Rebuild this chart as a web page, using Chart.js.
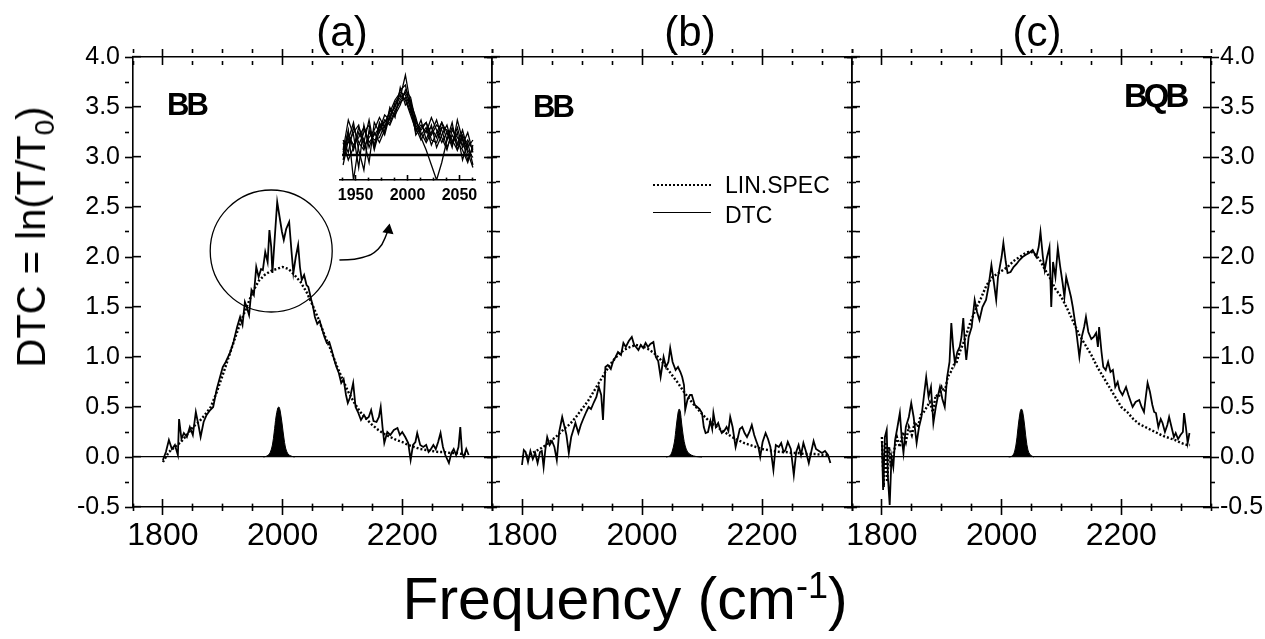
<!DOCTYPE html>
<html>
<head>
<meta charset="utf-8">
<script src="https://cdn.jsdelivr.net/npm/chart.js@4.4.1/dist/chart.umd.min.js"></script>
<style>
  body { margin: 0; background: #fff; width: 1265px; height: 639px; position: relative; overflow: hidden;
         font-family: "Liberation Sans", Arial, sans-serif; color: #000; }
  canvas { position: absolute; top: 0; }
  .t { position: absolute; line-height: 1; white-space: nowrap; }
  .lbl { font-size: 31px; font-weight: bold; letter-spacing: -3px; }
  .pan { font-size: 42px; transform: translateX(-50%); }
  .leg { position: absolute; width: 58px; height: 0; }
</style>
</head>
<body>
<canvas id="pa" width="497" height="639" style="left:0"></canvas>
<canvas id="pb" width="370" height="639" style="left:487px"></canvas>
<canvas id="pc" width="418" height="639" style="left:847px"></canvas>
<canvas id="inset" width="160" height="150" style="left:330px;top:60px"></canvas>

<div class="t pan" style="left:342px;top:11px">(a)</div>
<div class="t pan" style="left:690px;top:11px">(b)</div>
<div class="t pan" style="left:1037px;top:11px">(c)</div>
<div class="t lbl" style="left:167px;top:89px">BB</div>
<div class="t lbl" style="left:533px;top:91px">BB</div>
<div class="t lbl" style="left:1124px;top:79px;font-size:33px;letter-spacing:-4px">BQB</div>

<div class="leg" style="left:653px;top:184px;border-top:2px dotted #000"></div>
<div class="t" style="left:725px;top:174px;font-size:23px">LIN.SPEC</div>
<div class="leg" style="left:653px;top:212px;border-top:1.5px solid #000"></div>
<div class="t" style="left:725px;top:204px;font-size:23px">DTC</div>

<div class="t" style="left:35px;top:237px;font-size:40px;transform:translate(-50%,-50%) rotate(-90deg)">DTC = ln(T/T<sub style="font-size:28px">0</sub>)</div>
<div class="t" style="left:625px;top:568px;font-size:59px;transform:translateX(-50%)">Frequency (cm<sup style="font-size:36px">-1</sup>)</div>

<script>
// Achsen
const xTickValues = [1800, 2000, 2200];
const yTickValues = [-0.5, 0, 0.5, 1, 1.5, 2, 2.5, 3, 3.5, 4];
const insetTickValues = [1950, 2000, 2050];

// (a) BB
const dtcA = [[1800,-0.03],[1805,0.05],[1810,0.17],[1815,0.08],[1820,0.12],[1825,0.02],[1827,0.38],[1831,0.18],[1835,0.24],[1840,0.2],[1845,0.3],[1850,0.22],[1855,0.45],[1860,0.3],[1863,0.2],[1868,0.35],[1873,0.42],[1879,0.47],[1884,0.5],[1890,0.68],[1895,0.79],[1900,0.9],[1905,0.95],[1912,1.04],[1918,1.15],[1924,1.3],[1929,1.4],[1933,1.32],[1937,1.55],[1940,1.5],[1944,1.42],[1948,1.67],[1952,1.62],[1956,1.9],[1960,1.8],[1964,1.88],[1967,1.87],[1971,2.05],[1975,1.95],[1978,2.27],[1981,2.1],[1983,1.84],[1987,2.2],[1991,2.55],[1995,2.4],[1999,2.25],[2002,2.17],[2006,2.28],[2011,2.35],[2015,2.05],[2018,1.84],[2022,2.0],[2026,2.12],[2029,1.9],[2032,1.77],[2036,1.82],[2040,1.72],[2043,1.7],[2048,1.57],[2051,1.5],[2054,1.4],[2058,1.33],[2062,1.36],[2065,1.3],[2070,1.2],[2074,1.14],[2078,1.15],[2082,1.07],[2086,0.98],[2090,0.9],[2094,0.84],[2098,0.74],[2102,0.78],[2106,0.62],[2109,0.54],[2113,0.6],[2118,0.74],[2122,0.5],[2126,0.45],[2131,0.37],[2136,0.42],[2140,0.38],[2144,0.4],[2148,0.47],[2152,0.36],[2157,0.35],[2161,0.4],[2164,0.5],[2167,0.3],[2170,0.14],[2175,0.25],[2180,0.22],[2186,0.27],[2192,0.29],[2196,0.22],[2200,0.25],[2205,0.2],[2210,0.14],[2214,-0.03],[2218,0.12],[2222,0.15],[2225,0.24],[2230,0.12],[2235,0.1],[2240,0.12],[2244,0.05],[2247,0.07],[2252,0.12],[2256,0.08],[2260,0.15],[2264,0.24],[2268,0.1],[2272,0.02],[2278,-0.06],[2282,0.04],[2286,0.08],[2290,0.02],[2294,0.1],[2297,0.3],[2300,0.04],[2303,0.0],[2307,0.08],[2311,0.02]];
const linA = [[1800,-0.05],[1810,0.05],[1820,0.1],[1830,0.15],[1840,0.22],[1850,0.3],[1860,0.35],[1870,0.42],[1880,0.5],[1890,0.65],[1900,0.82],[1910,1.0],[1920,1.18],[1930,1.35],[1940,1.5],[1950,1.65],[1960,1.76],[1970,1.82],[1980,1.86],[1990,1.88],[2000,1.9],[2010,1.88],[2020,1.82],[2030,1.75],[2040,1.65],[2050,1.52],[2060,1.38],[2070,1.22],[2080,1.08],[2090,0.92],[2100,0.78],[2110,0.65],[2120,0.54],[2130,0.45],[2140,0.38],[2150,0.32],[2160,0.27],[2170,0.23],[2180,0.2],[2190,0.17],[2200,0.15],[2210,0.12],[2220,0.1],[2230,0.08],[2240,0.07],[2250,0.06],[2260,0.05],[2270,0.05],[2280,0.04],[2290,0.04],[2300,0.03],[2310,0.03]];
const peakA = [[1968,0],[1974,0.01],[1979,0.04],[1983,0.12],[1986,0.25],[1989,0.4],[1992,0.49],[1994,0.5],[1996,0.46],[1999,0.34],[2002,0.2],[2005,0.09],[2009,0.03],[2014,0.01],[2020,0]];
const circleA = [[1981, 2.06]];
const arrowA = [[2095,1.97],[2130,1.99],[2160,2.08],[2177,2.27]];

// (b) BB
const dtcB = [[1800,-0.08],[1803,0.07],[1806,0.05],[1810,-0.05],[1814,0.06],[1818,-0.02],[1822,0.04],[1826,-0.06],[1830,0.05],[1833,0.06],[1836,-0.1],[1839,0.08],[1842,0.2],[1846,0.12],[1850,0.16],[1854,0.1],[1858,-0.03],[1862,0.25],[1867,0.4],[1871,0.3],[1874,0.22],[1878,0.04],[1882,0.2],[1886,0.28],[1889,0.34],[1894,0.24],[1898,0.32],[1902,0.38],[1907,0.45],[1911,0.5],[1915,0.48],[1920,0.55],[1924,0.6],[1928,0.7],[1932,0.62],[1935,0.37],[1939,0.9],[1943,0.92],[1948,0.88],[1952,0.96],[1956,1.0],[1960,1.05],[1965,1.02],[1969,1.14],[1973,1.1],[1978,1.16],[1983,1.2],[1987,1.12],[1990,1.1],[1994,1.07],[1998,1.12],[2002,1.09],[2006,1.14],[2010,1.1],[2014,1.13],[2019,1.15],[2023,1.0],[2027,0.96],[2031,0.8],[2036,1.0],[2040,0.9],[2044,0.95],[2047,1.09],[2051,0.95],[2056,0.87],[2060,0.9],[2064,0.85],[2067,0.8],[2070,0.72],[2072,0.47],[2076,0.58],[2080,0.62],[2083,0.62],[2088,0.52],[2092,0.5],[2096,0.48],[2100,0.44],[2103,0.3],[2106,0.24],[2110,0.25],[2114,0.36],[2117,0.28],[2119,0.44],[2123,0.3],[2127,0.34],[2130,0.28],[2133,0.24],[2137,0.26],[2141,0.3],[2144,0.26],[2147,0.4],[2151,0.3],[2156,0.1],[2160,0.2],[2163,0.28],[2167,0.3],[2171,0.24],[2175,0.2],[2179,0.25],[2183,0.32],[2187,0.22],[2191,0.15],[2194,0.1],[2197,0.0],[2201,0.15],[2206,0.24],[2210,0.18],[2214,0.1],[2219,-0.13],[2223,0.12],[2228,0.1],[2232,0.14],[2236,0.05],[2239,0.07],[2243,0.15],[2248,0.08],[2253,-0.18],[2257,0.05],[2261,0.12],[2265,0.02],[2269,0.14],[2273,0.06],[2278,-0.06],[2282,0.05],[2286,0.16],[2290,0.08],[2295,0.06],[2300,0.04],[2305,0.06],[2310,0.02],[2314,-0.06]];
const linB = [[1800,0.0],[1810,0.02],[1820,0.05],[1830,0.08],[1840,0.12],[1850,0.17],[1860,0.22],[1870,0.28],[1880,0.33],[1890,0.4],[1900,0.48],[1910,0.56],[1920,0.66],[1930,0.76],[1940,0.86],[1950,0.95],[1960,1.02],[1970,1.07],[1980,1.1],[1990,1.12],[2000,1.11],[2010,1.08],[2020,1.04],[2030,0.98],[2040,0.9],[2050,0.82],[2060,0.74],[2070,0.65],[2080,0.57],[2090,0.5],[2100,0.43],[2110,0.37],[2120,0.32],[2130,0.28],[2140,0.24],[2150,0.2],[2160,0.17],[2170,0.14],[2180,0.12],[2190,0.1],[2200,0.08],[2210,0.07],[2220,0.06],[2230,0.05],[2240,0.05],[2250,0.04],[2260,0.04],[2270,0.03],[2280,0.03],[2290,0.03],[2300,0.02],[2310,0.02]];
const peakB = [[2040,0],[2046,0.01],[2050,0.05],[2054,0.15],[2057,0.3],[2060,0.44],[2062,0.48],[2064,0.45],[2066,0.34],[2069,0.2],[2072,0.11],[2076,0.05],[2082,0.02],[2090,0.005],[2100,0]];

// (c) BQB
const dtcC = [[1800,0.15],[1802,-0.33],[1805,0.2],[1808,0.27],[1810,-0.2],[1813,-0.48],[1816,0.0],[1819,-0.1],[1822,0.17],[1826,0.3],[1830,0.44],[1833,0.2],[1836,0.04],[1840,0.3],[1845,0.4],[1849,0.54],[1853,0.4],[1858,0.14],[1862,0.3],[1866,0.4],[1870,0.6],[1874,0.8],[1878,0.6],[1882,0.7],[1886,0.34],[1890,0.5],[1894,0.62],[1897,0.7],[1901,0.58],[1905,0.5],[1909,0.8],[1913,0.95],[1916,1.34],[1919,1.1],[1922,0.94],[1926,1.05],[1930,1.1],[1933,1.2],[1936,1.39],[1939,1.1],[1941,0.97],[1945,1.2],[1950,1.3],[1955,1.57],[1959,1.45],[1963,1.37],[1968,1.5],[1974,1.57],[1978,1.7],[1983,1.92],[1987,1.75],[1991,1.57],[1994,1.8],[1997,1.9],[2000,2.0],[2003,2.14],[2007,1.95],[2010,1.84],[2015,1.85],[2020,1.9],[2025,1.93],[2030,1.97],[2035,2.0],[2040,2.02],[2046,2.04],[2052,2.07],[2058,2.0],[2062,2.1],[2065,2.25],[2069,2.0],[2072,1.87],[2076,2.0],[2080,2.1],[2083,1.5],[2086,1.95],[2090,1.8],[2094,2.09],[2098,1.9],[2102,1.74],[2105,1.6],[2108,1.8],[2112,1.7],[2116,1.6],[2119,1.5],[2124,1.3],[2127,1.15],[2130,1.0],[2134,1.2],[2138,1.3],[2141,1.4],[2145,1.25],[2150,1.18],[2154,1.2],[2158,1.24],[2161,1.1],[2163,1.3],[2167,1.05],[2170,0.9],[2174,0.87],[2178,0.95],[2182,0.85],[2186,0.87],[2190,0.7],[2194,0.75],[2197,0.67],[2202,0.62],[2208,0.7],[2212,0.62],[2216,0.55],[2219,0.5],[2224,0.55],[2230,0.57],[2234,0.5],[2238,0.45],[2241,0.6],[2244,0.74],[2248,0.65],[2252,0.52],[2255,0.45],[2258,0.44],[2262,0.3],[2266,0.38],[2269,0.34],[2273,0.25],[2277,0.32],[2280,0.4],[2284,0.3],[2288,0.2],[2291,0.24],[2295,0.18],[2299,0.22],[2303,0.25],[2305,0.44],[2308,0.3],[2311,0.14],[2314,0.24]];
const linC = [[1800,0.2],[1803,-0.3],[1806,0.15],[1809,-0.25],[1812,0.1],[1815,-0.1],[1820,0.05],[1825,0.2],[1830,0.1],[1835,0.25],[1840,0.15],[1845,0.3],[1850,0.22],[1855,0.35],[1860,0.3],[1865,0.42],[1870,0.45],[1875,0.5],[1880,0.55],[1885,0.45],[1890,0.62],[1895,0.6],[1900,0.7],[1905,0.65],[1910,0.8],[1915,0.85],[1920,0.92],[1925,0.95],[1930,1.05],[1935,1.12],[1940,1.2],[1945,1.3],[1950,1.38],[1955,1.45],[1960,1.52],[1965,1.58],[1970,1.65],[1975,1.72],[1980,1.76],[1985,1.8],[1990,1.82],[1995,1.84],[2000,1.86],[2005,1.88],[2010,1.9],[2015,1.93],[2020,1.96],[2025,1.98],[2030,2.0],[2035,2.02],[2040,2.04],[2045,2.05],[2050,2.05],[2055,2.03],[2060,2.0],[2065,1.96],[2070,1.9],[2075,1.85],[2080,1.8],[2085,1.74],[2090,1.68],[2100,1.6],[2110,1.48],[2120,1.35],[2130,1.22],[2140,1.12],[2150,1.02],[2160,0.9],[2170,0.8],[2180,0.7],[2190,0.6],[2200,0.5],[2210,0.45],[2220,0.38],[2230,0.33],[2240,0.3],[2250,0.27],[2260,0.24],[2270,0.21],[2280,0.19],[2290,0.17],[2300,0.14],[2310,0.12],[2315,0.12]];
const peakC = [[2012,0],[2018,0.01],[2022,0.06],[2025,0.16],[2028,0.32],[2031,0.45],[2033,0.48],[2035,0.46],[2038,0.34],[2041,0.18],[2044,0.07],[2048,0.02],[2054,0]];

// Inset (a): mehrere Einzelspektren um 2000
const insetFreq = [1938,1943,1948,1953,1958,1963,1968,1973,1978,1983,1988,1993,1998,2003,2008,2013,2018,2023,2028,2033,2038,2043,2048,2053,2058,2063];
const insetRuns = [
  [0.2,1.4,0.8,-0.5,1.2,0.3,0.9,0.5,1.0,1.5,2.0,2.3,3.2,2.0,1.2,0.8,1.1,0.4,0.9,1.3,0.6,1.1,0.5,0.2,-0.3,0.4],
  [-0.4,0.6,1.3,0.2,-0.6,1.0,0.4,1.2,0.8,1.6,1.9,2.6,2.8,1.8,0.9,1.4,0.6,1.2,0.3,0.8,1.2,0.4,0.9,-0.2,0.5,-0.4],
  [0.5,-0.2,0.3,1.1,0.6,-0.3,1.3,0.9,1.4,1.2,1.7,2.2,2.5,2.1,1.5,0.7,0.2,-0.4,-1.0,-0.3,0.6,1.3,0.2,0.7,0.1,-0.5],
  [0.1,1.0,-1.0,0.4,0.9,1.2,0.2,1.0,1.6,1.4,2.1,2.4,2.2,1.6,1.0,1.2,0.9,1.5,1.0,0.5,0.9,0.3,1.4,0.6,-0.2,0.3],
  [0.3,0.5,0.9,1.2,0.3,0.7,1.0,1.5,1.1,1.8,1.6,2.0,2.6,2.3,1.3,1.0,1.3,0.8,1.2,1.0,0.3,0.8,0.4,1.0,0.2,-0.1],
  [-0.2,0.8,0.4,0.7,1.1,0.5,0.8,1.1,1.3,1.7,2.2,2.5,2.4,1.9,1.1,0.6,1.0,1.1,0.7,1.3,0.9,0.5,1.1,0.3,0.6,0.2],
  [0.6,0.1,1.1,0.5,0.2,0.9,0.6,0.7,1.2,1.3,1.8,2.1,2.3,1.7,1.4,0.9,0.5,0.9,1.4,0.7,0.2,1.0,0.7,0.4,0.9,0.1],
  [0.0,0.9,0.2,0.9,0.5,1.4,0.3,1.3,0.9,1.9,1.5,2.7,2.0,2.2,0.8,1.1,1.3,0.6,0.5,1.1,1.0,0.6,0.2,0.8,0.3,0.6]
];
const insetBase = [[1937,0],[2062,0]];

const FONT = '"Liberation Sans", Arial, sans-serif';
const pts = arr => arr.map(([x, y]) => ({ x, y }));

// Tick-Positionen inkl. Nebenticks (Achsenkonfiguration, keine Daten)
function tickGrid(lo, hi, step) {
  const out = [];
  for (let i = 0; lo + i * step <= hi + 1e-9; i++) out.push(+(lo + i * step).toFixed(4));
  return out;
}
const xAll = tickGrid(1750, 2350, 50);
const yAll = tickGrid(-0.5, 4.0, 0.25);
const insetAll = tickGrid(1937.5, 2062.5, 12.5);
const isMajor = (list, v) => list.some(m => Math.abs(m - v) < 1e-6);

// Achse mit Ticks (negative tickLength = nach innen); Nebenticks per Strichmuster kürzer
function frameAxis(all, majors, size, extra, sign = -1) {
  return Object.assign({
    type: 'linear',
    weight: 1,
    afterBuildTicks: s => { s.ticks = all.map(v => ({ value: v })); },
    border: { display: true, color: '#000', width: 1.6 },
    grid: {
      display: true,
      drawOnChartArea: false,
      drawTicks: true,
      tickLength: sign * size.major,
      tickWidth: 1.6,
      tickColor: '#000',
      tickBorderDash: c => (c.tick && isMajor(majors, c.tick.value) ? [] : [size.minor, 40])
    }
  }, extra);
}

// Zwillingsachse ohne Beschriftung mit umgekehrter Tick-Richtung -> Ticks kreuzen den Rahmen
function twinAxis(all, majors, size, position, min, max, horiz) {
  return frameAxis(all, majors, size, {
    position, min, max, weight: 0,
    border: { display: false },
    ticks: { display: false },
    afterFit: s => {
      if (horiz) { s.height = 0; s.paddingLeft = 0; s.paddingRight = 0; }
      else { s.width = 0; s.paddingTop = 0; s.paddingBottom = 0; }
    }
  }, 1);
}

function lineSet(data, dotted) {
  return {
    data: pts(data),
    borderColor: '#000',
    borderWidth: dotted ? 2.4 : 1.8,
    borderDash: dotted ? [2, 2] : [],
    pointRadius: 0,
    tension: 0,
    fill: false
  };
}

function peakSet(data) {
  return {
    data: pts(data),
    borderColor: '#000',
    borderWidth: 1,
    backgroundColor: '#000',
    pointRadius: 0,
    tension: 0.3,
    fill: 'origin'
  };
}

const SIZE = { major: 8, minor: 4 };

function makePanel(id, datasets, yMode, padding) {
  const leftW = yMode === 'left' ? 133 : 0;
  const rightW = yMode === 'right' ? 54 : 0;
  const x = frameAxis(xAll, xTickValues, SIZE, {
    position: 'bottom', min: 1750, max: 2350,
    afterFit: s => { s.height = 132; s.paddingLeft = 0; s.paddingRight = 0; },
    ticks: {
      color: '#000', font: { family: FONT, size: 32 }, padding: 18, maxRotation: 0, autoSkip: false,
      callback: v => (isMajor(xTickValues, v) ? String(v) : '')
    }
  });
  const y = frameAxis(yAll, yTickValues, SIZE, {
    position: 'left', min: -0.5, max: 4.0,
    afterFit: s => { s.width = leftW; s.paddingTop = 0; s.paddingBottom = 0; },
    ticks: {
      display: yMode === 'left',
      color: '#000', font: { family: FONT, size: 25 }, padding: 21,
      callback: v => (isMajor(yTickValues, v) ? v.toFixed(1) : '')
    }
  });
  // Nulllinie über die ganze Breite
  y.grid.drawOnChartArea = true;
  y.grid.lineWidth = 1.3;
  y.grid.color = c => (c.tick && c.tick.value === 0 ? '#000' : 'rgba(0,0,0,0)');
  const xTop = frameAxis(xAll, xTickValues, SIZE, {
    position: 'top', min: 1750, max: 2350,
    afterFit: s => { s.height = 0; s.paddingLeft = 0; s.paddingRight = 0; },
    ticks: { display: false }
  });
  const yRight = frameAxis(yAll, yTickValues, SIZE, {
    position: 'right', min: -0.5, max: 4.0,
    afterFit: s => { s.width = rightW; s.paddingTop = 0; s.paddingBottom = 0; },
    ticks: {
      display: yMode === 'right',
      color: '#000', font: { family: FONT, size: 25 }, padding: 17,
      callback: v => (isMajor(yTickValues, v) ? v.toFixed(1) : '')
    }
  });

  return new Chart(document.getElementById(id), {
    type: 'line',
    data: { datasets },
    options: {
      responsive: false,
      animation: false,
      events: [],
      layout: { padding, autoPadding: false },
      plugins: {
        legend: { display: false },
        tooltip: { enabled: false }
      },
      scales: {
        x, y, xTop, yRight,
        xTwin: twinAxis(xAll, xTickValues, SIZE, 'bottom', 1750, 2350, true),
        xTopTwin: twinAxis(xAll, xTickValues, SIZE, 'top', 1750, 2350, true),
        yTwin: twinAxis(yAll, yTickValues, SIZE, 'left', -0.5, 4.0, false),
        yRightTwin: twinAxis(yAll, yTickValues, SIZE, 'right', -0.5, 4.0, false)
      }
    }
  });
}

// Panel (a)
makePanel('pa', [
  lineSet(linA, true),
  lineSet(dtcA, false),
  peakSet(peakA),
  {
    data: pts(circleA), showLine: false,
    pointRadius: 61, pointHoverRadius: 61,
    pointBackgroundColor: 'rgba(0,0,0,0)', pointBorderColor: '#000', pointBorderWidth: 1.3
  },
  {
    data: pts(arrowA), borderColor: '#000', borderWidth: 1.5, tension: 0.45,
    pointRadius: [0, 0, 0, 5], pointStyle: 'triangle', pointRotation: 10,
    pointBackgroundColor: '#000', pointBorderColor: '#000'
  }
], 'left', { top: 57, right: 5, left: 0, bottom: 0 });

// Panel (b)
makePanel('pb', [
  lineSet(linB, true),
  lineSet(dtcB, false),
  peakSet(peakB)
], 'none', { top: 57, right: 5, left: 5, bottom: 0 });

// Panel (c)
makePanel('pc', [
  lineSet(linC, true),
  lineSet(dtcC, false),
  peakSet(peakC)
], 'right', { top: 57, right: 0, left: 5, bottom: 0 });

// Inset in (a)
new Chart(document.getElementById('inset'), {
  type: 'line',
  data: {
    datasets: insetRuns.map(run => ({
      data: run.map((v, i) => ({ x: insetFreq[i], y: v })),
      borderColor: '#000', borderWidth: 1.3, pointRadius: 0, tension: 0
    })).concat([{ data: pts(insetBase), borderColor: '#000', borderWidth: 2.5, pointRadius: 0 }])
  },
  options: {
    responsive: false,
    animation: false,
    events: [],
    layout: { padding: { top: 10, left: 10, right: 15, bottom: 0 }, autoPadding: false },
    plugins: {
      legend: { display: false },
      tooltip: { enabled: false }
    },
    scales: {
      x: frameAxis(insetAll, insetTickValues, { major: 5, minor: 3 }, {
        position: 'bottom', min: 1935, max: 2065,
        afterFit: s => { s.height = 30; s.paddingLeft = 0; s.paddingRight = 0; },
        ticks: {
          color: '#000', font: { family: FONT, size: 16, weight: 'bold' }, padding: 11, maxRotation: 0, autoSkip: false,
          callback: v => (isMajor(insetTickValues, v) ? String(v) : '')
        }
      }),
      y: { type: 'linear', min: -1, max: 3.4, display: false }
    }
  }
});
</script>
</body>
</html>
